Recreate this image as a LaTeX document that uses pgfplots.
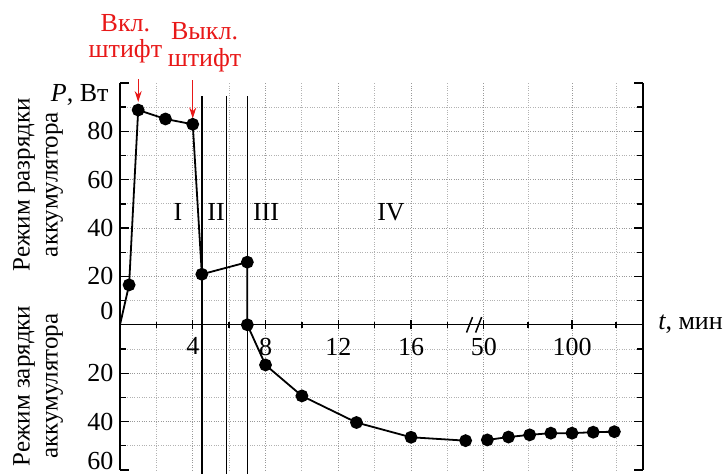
\documentclass[border=0pt]{standalone}
\usepackage{fontspec}
\setmainfont{Liberation Serif}
\usepackage{pgfplots}
\pgfplotsset{compat=1.18}
\usepackage{pgfplotstable}
\usetikzlibrary{arrows.meta}

\definecolor{redtext}{RGB}{232,24,24}

% power P (W) vs time t (min); charging is stored as negative power
\pgfplotstableread{
t    P
0.0   0.0
0.5  16.5
1.0  88.8
2.5  85.1
4.0  82.9
4.5  20.9
7.0  25.9
7.0   0.0
8.0 -16.6
10  -29.4
13  -40.4
16  -46.5
19  -47.9
}\early

% long-time part, drawn past the axis break (50 min sits at 20 on the axis)
\pgfplotstableread{
t    P
52  -47.6
64  -46.4
76  -45.5
88  -44.8
100 -44.8
112 -44.4
124 -44.2
}\late

\begin{document}
\begin{tikzpicture}[font=\fontsize{26}{28}\selectfont]
\begin{axis}[
  scale only axis, width=523pt, height=387pt,
  xmin=0, xmax=28.75, ymin=-60, ymax=100,
  axis x line=middle, axis y line=box,
  x axis line style={-},
  axis line style={line width=1.3pt},
  % after the break: 50 -> 20, 75 -> 22.425, 100 -> 24.85, 125 -> 27.275
  xtick={4,8,12,16,20,24.85}, xticklabels={4,8,12,16,50,100},
  minor xtick={2,6,10,14,18,22.425,27.275},
  ytick={-40,-20,0,20,40,60,80},
  yticklabels={40,20,\raisebox{5pt}[0pt][0pt]{0},20,40,60,80},
  minor ytick={-50,-30,-10,10,30,50,70,90},
  extra y ticks={-60,100}, extra y tick labels={\raisebox{0.5pt}[0pt][0pt]{60},{}},
  extra y tick style={grid=none},
  yticklabel pos=left,
  yticklabel style={xshift=-3pt},
  xticklabel style={yshift=-5pt},
  grid=both,
  major grid style={dotted, gray!80, line width=0.8pt},
  minor grid style={dotted, gray!60, line width=0.8pt},
  major tick length=9pt, minor tick length=6pt,
  every tick/.style={black, line width=1.3pt},
  xtick align=center,
  clip=false,
  /pgf/number format/assume math mode=true,
]
\addplot[black, line width=1.8pt, mark=*, mark size=5.5pt,
  mark options={solid, fill=black},
  mark indices={2,3,4,5,6,7,8,9,10,11,12,13}]
  table[x=t, y=P]{\early};
\addplot[black, line width=1.8pt, mark=*, mark size=5.5pt,
  mark options={solid, fill=black}]
  table[x expr={20+(\thisrow{t}-50)*0.097}, y=P]{\late};

% boundaries of the stages I-IV
\addplot[black, line width=1.4pt, forget plot] coordinates {(4.5,94.6) (4.5,-61.6)};
\addplot[black, line width=1.4pt, forget plot] coordinates {(5.85,94.6) (5.85,-61.6)};
\addplot[black, line width=1.4pt, forget plot] coordinates {(7.0,94.6) (7.0,-61.6)};

% axis break
\draw[line width=1.5pt] (axis cs:19.05,-3.2) -- (axis cs:19.38,3.2);
\draw[line width=1.5pt] (axis cs:19.55,-3.2) -- (axis cs:19.88,3.2);

\node at (axis cs:3.19,46.7) {I};
\node at (axis cs:5.28,46.7) {II};
\node at (axis cs:8.03,46.7) {III};
\node at (axis cs:14.9,46.7) {IV};

\node[anchor=base east] at (axis cs:-0.44,92.5) {\textit{P}, Вт};
\node[anchor=base west] at (axis cs:29.4,-2) {\textit{t}, мин};

\node[anchor=base, text=redtext] at (axis cs:0.3,121.1) {Вкл.};
\node[anchor=base, text=redtext] at (axis cs:0.3,110.7) {штифт};
\node[anchor=base, text=redtext] at (axis cs:4.65,117.8) {Выкл.};
\node[anchor=base, text=redtext] at (axis cs:4.65,106.6) {штифт};
\draw[redtext, line width=1.1pt, -{Stealth[length=11pt,width=7pt]}]
  (axis cs:1.0,101.6) -- (axis cs:1.0,92.1);
\draw[redtext, line width=1.1pt, -{Stealth[length=11pt,width=7pt]}]
  (axis cs:4.0,101.2) -- (axis cs:4.0,85.3);

\node[rotate=90, align=center, font=\fontsize{25}{28}\selectfont]
  at (axis cs:-4.5,58) {Режим разрядки\\аккумулятора};
\node[rotate=90, align=center, font=\fontsize{25}{28}\selectfont]
  at (axis cs:-4.5,-25.3) {Режим зарядки\\аккумулятора};

\coordinate (bbsw) at (axis cs:-6.597,-61.65);
\coordinate (bbne) at (axis cs:33.425,134.3);
\end{axis}
\pgfresetboundingbox
\useasboundingbox (bbsw) rectangle (bbne);
\end{tikzpicture}
\end{document}
